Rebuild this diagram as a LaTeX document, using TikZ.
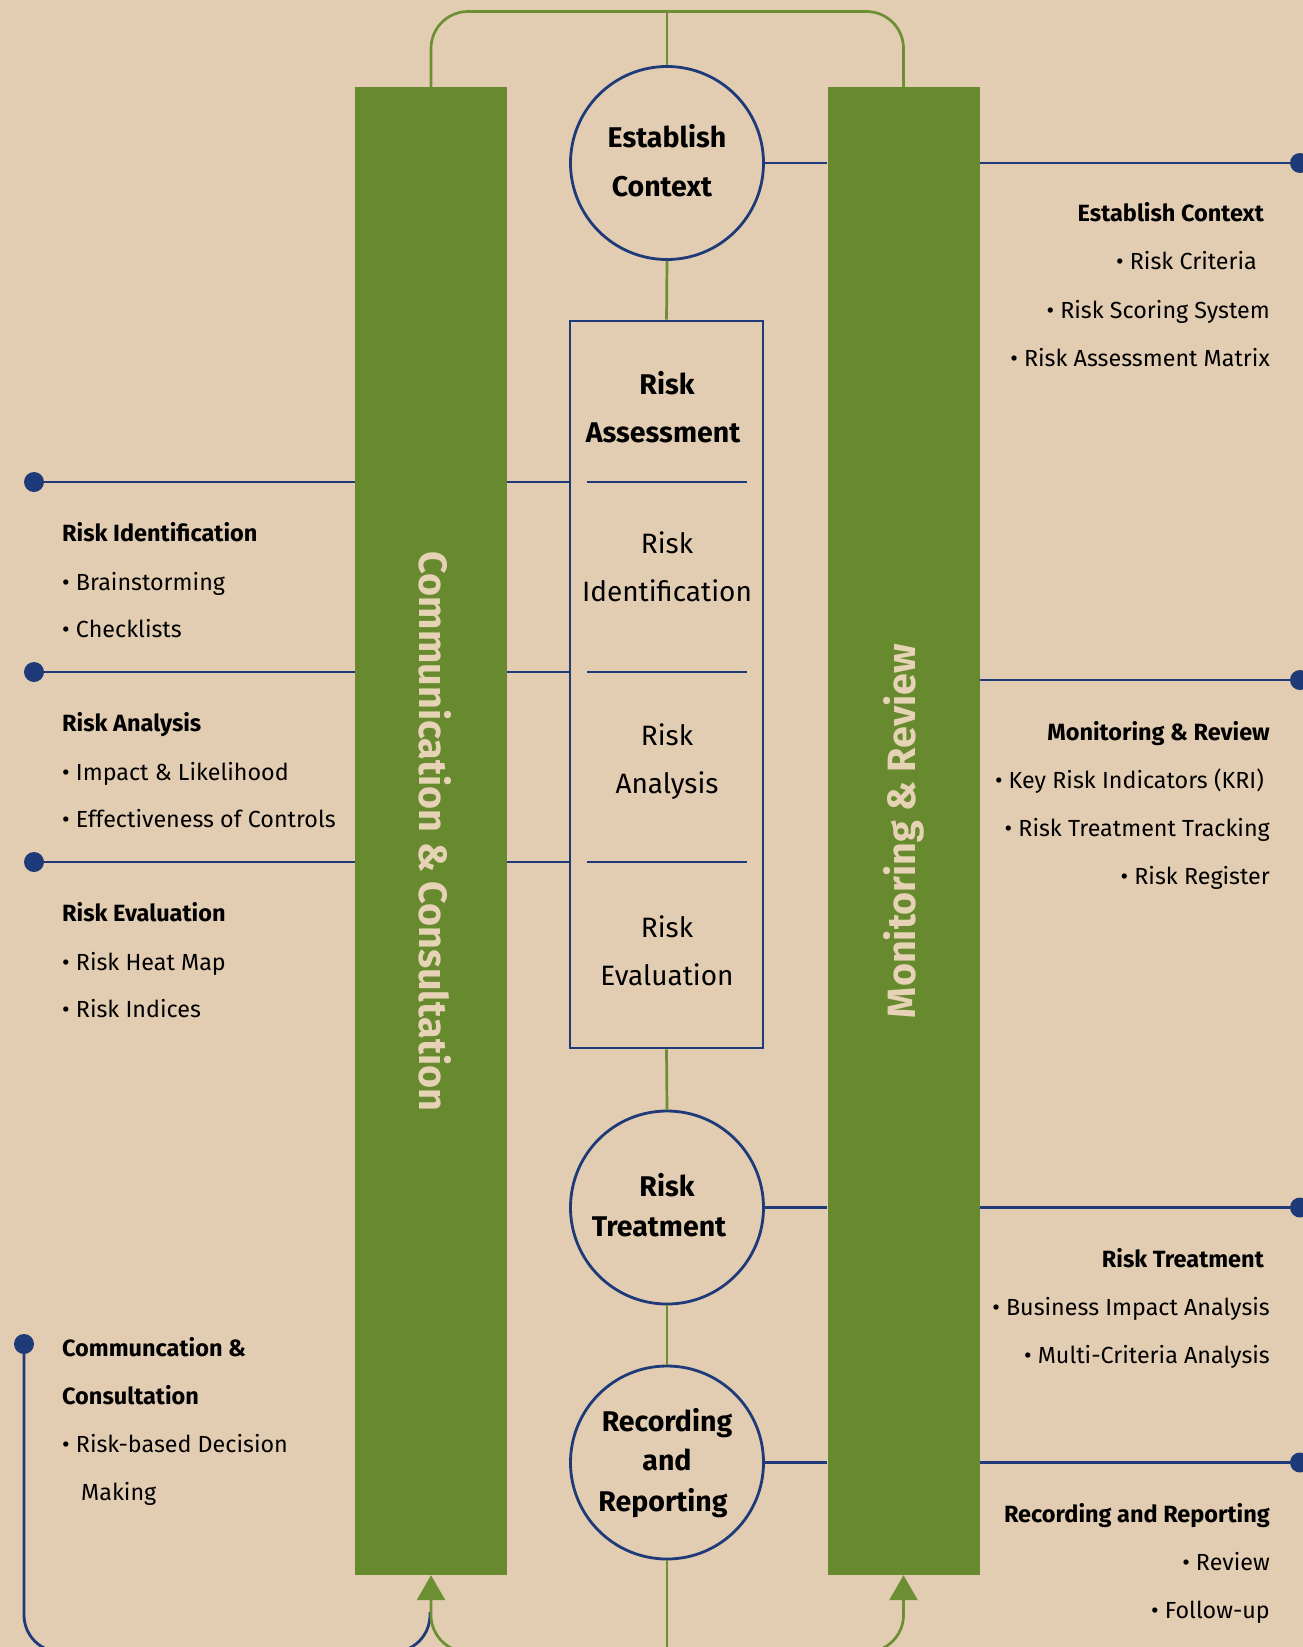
\documentclass[tikz,border=0pt]{standalone}
\usepackage{fontspec}
\setmainfont{Fira Sans}
\usetikzlibrary{arrows.meta}
\definecolor{paper}{HTML}{E2CDB2}
\definecolor{barg}{HTML}{688A2F}
\definecolor{navy}{HTML}{1E3A78}
\definecolor{gline}{HTML}{6B8F32}
\definecolor{lighttext}{HTML}{E6D3B6}
\tikzset{
  greenbar/.style={rectangle, fill=barg, inner sep=0pt, minimum width=152pt, minimum height=1488pt},
  stagecircle/.style={circle, draw=navy, line width=2.8pt, inner sep=0pt, minimum size=193pt},
  stagebox/.style={rectangle, draw=navy, line width=2.6pt, inner sep=0pt, minimum width=193pt, minimum height=727pt},
  bluedot/.style={circle, fill=navy, inner sep=0pt, minimum size=20pt},
  bl/.style={draw=navy, line width=2.8pt},
  gl/.style={draw=gline, line width=2.7pt},
  lefttxt/.style={anchor=base west, inner sep=0pt, font=\fontsize{23.3}{27}\selectfont},
  righttxt/.style={anchor=base east, inner sep=0pt, font=\fontsize{23.3}{27}\selectfont},
  headL/.style={lefttxt, font=\fontsize{23.5}{27}\selectfont\bfseries},
  headR/.style={righttxt, font=\fontsize{23.5}{27}\selectfont\bfseries},
  ctitle/.style={anchor=base, inner sep=0pt, font=\fontsize{28.5}{32}\selectfont\bfseries},
  cplain/.style={anchor=base, inner sep=0pt, font=\fontsize{28}{32}\selectfont},
  vtitle/.style={inner sep=0pt, text=lighttext, font=\fontsize{39.5}{44}\selectfont\bfseries},
  arrowtip/.style={-{Triangle[width=28pt,length=25pt]}}
}
\begin{document}
\begin{tikzpicture}[x=1pt,y=-1pt]
\fill[paper] (0,0) rectangle (1303,1647);
\useasboundingbox (0,0) rectangle (1303,1647);
\clip (0,0) rectangle (1303,1647);

% bars
\node[greenbar] (cc) at (431,831) {};
\node[greenbar] (mr) at (903.5,831) {};
\node[vtitle, rotate=-90] (cctxt) at (435,831.6) {Communication \& Consultation};
\node[vtitle, rotate=90] (mrtxt) at (903.5,831) {Monitoring \& Review};

% central stages
\node[stagecircle] (ec) at (667,163) {};
\node[stagebox] (ra) at (666.5,684.5) {};
\node[stagecircle] (rt) at (667,1207.5) {};
\node[stagecircle] (rr) at (667,1462.5) {};

% green flow
\coordinate (top) at (667,11.5);
\coordinate (bot) at (667,1652);
\draw[gl, rounded corners=37pt] (cc.north) |- (top) -| (mr.north);
\draw[gl] (top) -- (ec.north);
\draw[gl] (ec.south) -- (ra.north);
\draw[gl] (ra.south) -- (rt.north);
\draw[gl] (rt.south) -- (rr.north);
\draw[gl] (rr.south) -- (bot);

% blue left-bottom loop
\node[bluedot] (dcc) at (24,1344) {};
\coordinate (merge) at (430,1612);
\draw[bl, rounded corners=37pt] (dcc) -- (24,1652) -| (merge);

\draw[gl, rounded corners=37pt, arrowtip] (bot) -| (cc.south);
\draw[gl, rounded corners=37pt, arrowtip] (bot) -| (mr.south);

% box dividers
\coordinate (d1a) at (587,482); \coordinate (d1b) at (747,482);
\coordinate (d2a) at (587,672); \coordinate (d2b) at (747,672);
\coordinate (d3a) at (587,862); \coordinate (d3b) at (747,862);
\draw[bl] (d1a) -- (d1b);
\draw[bl] (d2a) -- (d2b);
\draw[bl] (d3a) -- (d3b);

% left dots and connectors
\node[bluedot] (l1) at (34,482) {};
\node[bluedot] (l2) at (34,672) {};
\node[bluedot] (l3) at (34,862) {};
\draw[bl] (l1) -- (l1 -| cc.west);
\draw[bl] (l2) -- (l2 -| cc.west);
\draw[bl] (l3) -- (l3 -| cc.west);
\draw[bl] (l1 -| cc.east) -- (l1 -| ra.west);
\draw[bl] (l2 -| cc.east) -- (l2 -| ra.west);
\draw[bl] (l3 -| cc.east) -- (l3 -| ra.west);

% right dots and connectors
\node[bluedot] (r1) at (1300,163) {};
\node[bluedot] (r2) at (1300,680) {};
\node[bluedot] (r3) at (1300,1207.5) {};
\node[bluedot] (r4) at (1300,1462.5) {};
\draw[bl] (ec.east) -- (ec.east -| mr.west);
\draw[bl] (rt.east) -- (rt.east -| mr.west);
\draw[bl] (rr.east) -- (rr.east -| mr.west);
\draw[bl] (r1 -| mr.east) -- (r1);
\draw[bl] (r2 -| mr.east) -- (r2);
\draw[bl] (r3 -| mr.east) -- (r3);
\draw[bl] (r4 -| mr.east) -- (r4);

% stage labels
\node[ctitle] (t1) at (667,147.5) {Establish};
\node[ctitle] (t2) at (662,196) {Context};
\node[ctitle] (t3) at (667,394) {Risk};
\node[ctitle] (t4) at (663,442.6) {Assessment};
\node[cplain] (t5) at (667,553) {Risk};
\node[cplain] (t6) at (667,601) {Identification};
\node[cplain] (t7) at (667,745) {Risk};
\node[cplain] (t8) at (667,793) {Analysis};
\node[cplain] (t9) at (667,937) {Risk};
\node[cplain] (t10) at (667,985) {Evaluation};
\node[ctitle] (t11) at (667,1196.5) {Risk};
\node[ctitle] (t12) at (659,1236) {Treatment};
\node[ctitle] (t13) at (667,1431.7) {Recording};
\node[ctitle] (t14) at (667,1470.5) {and};
\node[ctitle] (t15) at (663,1511.5) {Reporting};

% left notes
\node[headL] (a1) at (62,541.5) {Risk Identification};
\node[lefttxt] (a2) at (62,590) {• Brainstorming};
\node[lefttxt] (a3) at (62,637.5) {• Checklists};
\node[headL] (a4) at (62,731.5) {Risk Analysis};
\node[lefttxt] (a5) at (62,780) {• Impact \& Likelihood};
\node[lefttxt] (a6) at (62,827.5) {• Effectiveness of Controls};
\node[headL] (a7) at (62,921.5) {Risk Evaluation};
\node[lefttxt] (a8) at (62,970) {• Risk Heat Map};
\node[lefttxt] (a9) at (62,1017.5) {• Risk Indices};
\node[headL] (a10) at (62,1356) {Communcation \&};
\node[headL] (a11) at (62,1404.5) {Consultation};
\node[lefttxt] (a12) at (62,1452) {• Risk-based Decision};
\node[lefttxt] (a13) at (81,1500) {Making};

% right notes
\node[headR] (b1) at (1264,221) {Establish Context};
\node[righttxt] (b2) at (1257,269.5) {• Risk Criteria};
\node[righttxt] (b3) at (1270,318) {• Risk Scoring System};
\node[righttxt] (b4) at (1270,366) {• Risk Assessment Matrix};
\node[headR] (b5) at (1270,740) {Monitoring \& Review};
\node[righttxt] (b6) at (1264,788) {• Key Risk Indicators (KRI)};
\node[righttxt] (b7) at (1270,836) {• Risk Treatment Tracking};
\node[righttxt] (b8) at (1270,884.5) {• Risk Register};
\node[headR] (b9) at (1264,1267) {Risk Treatment};
\node[righttxt] (b10) at (1270,1315) {• Business Impact Analysis};
\node[righttxt] (b11) at (1270,1363.5) {• Multi-Criteria Analysis};
\node[headR] (b12) at (1270,1522) {Recording and Reporting};
\node[righttxt] (b13) at (1270,1570) {• Review};
\node[righttxt] (b14) at (1270,1618) {• Follow-up};
\end{tikzpicture}
\end{document}
